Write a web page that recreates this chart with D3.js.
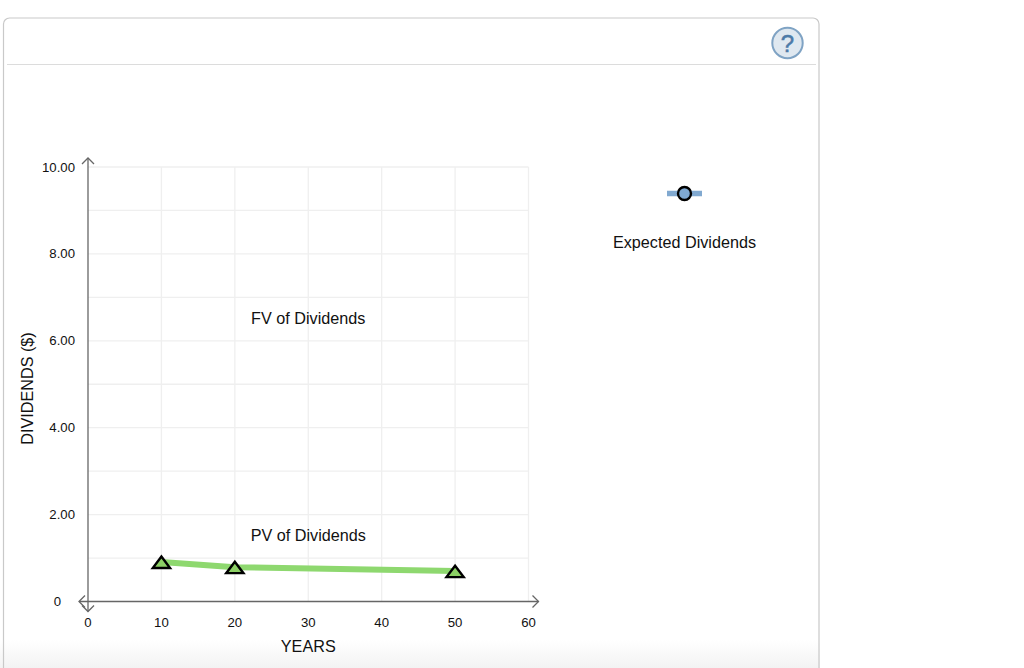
<!DOCTYPE html>
<html>
<head>
<meta charset="utf-8">
<script src="https://cdn.jsdelivr.net/npm/d3@7/dist/d3.min.js"></script>
<style>
  html, body { margin: 0; padding: 0; background: #fff; overflow: hidden; }
  svg { display: block; font-family: "Liberation Sans", Arial, sans-serif; }
</style>
</head>
<body>
<svg id="chart" width="1024" height="668"></svg>
<script>
const xTicks = [0, 10, 20, 30, 40, 50, 60];
const yMajorTicks = [2, 4, 6, 8, 10];
const yGridTicks = [1, 2, 3, 4, 5, 6, 7, 8, 9, 10];
const pvYears = [10, 20, 50];
const pvValues = [0.91, 0.79, 0.70];
const legendLabel = 'Expected Dividends';
const curveLabels = [
  { text: 'FV of Dividends', year: 30, value: 6.38 },
  { text: 'PV of Dividends', year: 30, value: 1.4 }
];

const svg = d3.select('#chart');
const x = d3.scaleLinear().domain([0, 60]).range([88, 528.5]);
const y = d3.scaleLinear().domain([0, 10]).range([601.5, 167]);

// page furniture
const defs = svg.append('defs');
const fade = defs.append('linearGradient').attr('id', 'fade').attr('x1', 0).attr('x2', 0).attr('y1', 0).attr('y2', 1);
fade.append('stop').attr('offset', 0).attr('stop-color', '#fff');
fade.append('stop').attr('offset', 1).attr('stop-color', '#f3f3f3');
svg.append('rect').attr('x', 0).attr('y', 640).attr('width', 820).attr('height', 28).attr('fill', 'url(#fade)');

svg.append('path')
  .attr('d', 'M3.5,668V24a6,6 0 0 1 6,-6H813a6,6 0 0 1 6,6V668')
  .attr('fill', 'none').attr('stroke', '#c9c9c9').attr('stroke-width', 1.2);
svg.append('line').attr('x1', 7).attr('x2', 816).attr('y1', 64.5).attr('y2', 64.5)
  .attr('stroke', '#dcdcdc');

const help = svg.append('g').attr('transform', 'translate(787.5,43)');
help.append('circle').attr('r', 15.2).attr('fill', '#dfe8f0').attr('stroke', '#7fa3c4').attr('stroke-width', 2);
help.append('text').attr('text-anchor', 'middle').attr('y', 8.5)
  .attr('font-size', 24).attr('fill', '#4d7ba8')
  .attr('stroke', '#4d7ba8').attr('stroke-width', 0.5).text('?');

// grid
const grid = svg.append('g').attr('stroke', '#efefef').attr('stroke-width', 1.3);
grid.selectAll('.gx').data(xTicks.slice(1)).join('line')
  .attr('x1', d => x(d)).attr('x2', d => x(d)).attr('y1', y(10)).attr('y2', y(0));
grid.selectAll('.gy').data(yGridTicks).join('line')
  .attr('x1', x(0)).attr('x2', x(60)).attr('y1', d => y(d)).attr('y2', d => y(d));

// axes with open arrow heads
const axisColor = '#666';
const axes = svg.append('g').attr('stroke', axisColor).attr('fill', 'none').attr('stroke-width', 1.3);
axes.append('line').attr('x1', x(0)).attr('x2', x(0)).attr('y1', y(10) - 9).attr('y2', y(0) + 10);
axes.append('line').attr('x1', x(0) - 9).attr('x2', x(60) + 10).attr('y1', y(0)).attr('y2', y(0));
const arrow = (px, py, dx, dy) => {
  const nx = -dy, ny = dx;
  axes.append('path').attr('d',
    `M${px - dx * 6 + nx * 6},${py - dy * 6 + ny * 6}L${px},${py}L${px - dx * 6 - nx * 6},${py - dy * 6 - ny * 6}`);
};
arrow(x(0), y(10) - 9, 0, -1);
arrow(x(0), y(0) + 10, 0, 1);
arrow(x(0) - 9, y(0), -1, 0);
arrow(x(60) + 10, y(0), 1, 0);

// tick labels
svg.selectAll('.xt').data(xTicks).join('text')
  .attr('x', d => x(d)).attr('y', 627).attr('text-anchor', 'middle')
  .attr('font-size', 13.2).attr('fill', '#111').text(d => d);
svg.selectAll('.yt').data(yMajorTicks).join('text')
  .attr('x', 75).attr('y', d => y(d) + 4.5).attr('text-anchor', 'end')
  .attr('font-size', 13.2).attr('fill', '#111').text(d => d3.format('.2f')(d));
svg.append('text').attr('x', 61).attr('y', y(0) + 4.5).attr('text-anchor', 'end')
  .attr('font-size', 13.2).attr('fill', '#111').text('0');

svg.append('text').attr('x', x(30)).attr('y', 652).attr('text-anchor', 'middle')
  .attr('font-size', 16.2).attr('fill', '#111').text('YEARS');
svg.append('text').attr('transform', 'translate(33,388.5) rotate(-90)').attr('text-anchor', 'middle')
  .attr('font-size', 16.2).attr('fill', '#111').text('DIVIDENDS ($)');

svg.selectAll('.cl').data(curveLabels).join('text')
  .attr('x', d => x(d.year)).attr('y', d => y(d.value)).attr('text-anchor', 'middle')
  .attr('font-size', 16.2).attr('fill', '#111').text(d => d.text);

// PV series
const pvPoints = pvYears.map((year, i) => [year, pvValues[i]]);
const line = d3.line().x(d => x(d[0])).y(d => y(d[1]));
svg.append('path').attr('d', line(pvPoints)).attr('fill', 'none')
  .attr('stroke', '#8ed86f').attr('stroke-width', 6);
svg.selectAll('.pv').data(pvPoints).join('path')
  .attr('transform', d => `translate(${x(d[0])},${y(d[1])})`)
  .attr('d', 'M0,-5.4L8.6,6H-8.6Z')
  .attr('fill', '#8cd065').attr('stroke', '#000').attr('stroke-width', 2.4);

// legend
const legend = svg.append('g');
legend.append('line').attr('x1', 667).attr('x2', 702).attr('y1', 193.5).attr('y2', 193.5)
  .attr('stroke', '#81a9d0').attr('stroke-width', 5.5);
legend.append('circle').attr('cx', 684.5).attr('cy', 193.5).attr('r', 6.5)
  .attr('fill', '#7fa9d3').attr('stroke', '#000').attr('stroke-width', 2.4);
legend.append('text').attr('x', 684.5).attr('y', 247.5).attr('text-anchor', 'middle')
  .attr('font-size', 16.2).attr('fill', '#111').text(legendLabel);
</script>
</body>
</html>
